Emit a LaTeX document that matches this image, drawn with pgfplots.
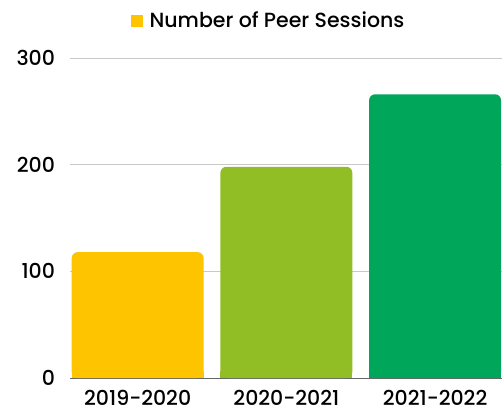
\documentclass[border=0pt]{standalone}
\usepackage{fontspec}
\setmainfont{Poppins}[UprightFont=* Medium]
\usepackage{pgfplots}
\pgfplotsset{compat=1.18}
\definecolor{cYel}{HTML}{FFC400}
\definecolor{cLime}{HTML}{92BE25}
\definecolor{cGreen}{HTML}{00A65A}
\definecolor{cGrid}{HTML}{C8C8C8}
\begin{document}
\fontsize{20.5bp}{24bp}\selectfont
\begin{tikzpicture}
\begin{axis}[
  at={(0,0)}, anchor=south west,
  scale only axis, width=432bp, height=320bp,
  xmin=-0.455, xmax=2.45, ymin=0, ymax=300,
  ybar, bar width=0.887, bar shift=0pt,
  xtick={0,1,2}, xticklabels={2019-2020,2020-2021,2021-2022},
  ytick={0,100,200,300},
  /pgf/number format/assume math mode=true,
  major tick length=0pt,
  ymajorgrids, grid style={cGrid, line width=0.8bp},
  axis lines*=left,
  y axis line style={draw=none},
  x axis line style={draw=black!60, line width=1bp},
  yticklabel style={xshift=-8bp},
  xticklabel style={yshift=-5bp},
  legend style={at={(0.4595,1.1156)}, anchor=center, draw=none, fill=none,
    legend cell align=left, /tikz/every even column/.style={column sep=0pt}},
  legend image code/.code={\fill[cYel, sharp corners] (-6bp,-6bp) rectangle (6bp,6bp);},
  clip=false,
]
\addplot[fill=cYel, draw=none, rounded corners=6bp] coordinates {(0,118)};
\addlegendentry{\hspace{5bp}Number of Peer Sessions}
\addplot[fill=cLime, draw=none, rounded corners=6bp, forget plot] coordinates {(1,198)};
\addplot[fill=cGreen, draw=none, rounded corners=6bp, forget plot] coordinates {(2,266)};
% square off the bottom corners
\addplot[fill=cYel, draw=none, forget plot] coordinates {(0,7)};
\addplot[fill=cLime, draw=none, forget plot] coordinates {(1,7)};
\addplot[fill=cGreen, draw=none, forget plot] coordinates {(2,7)};
\end{axis}
\pgfresetboundingbox
\path (-70bp,-34bp) rectangle (432bp,378bp);
\end{tikzpicture}
\end{document}
